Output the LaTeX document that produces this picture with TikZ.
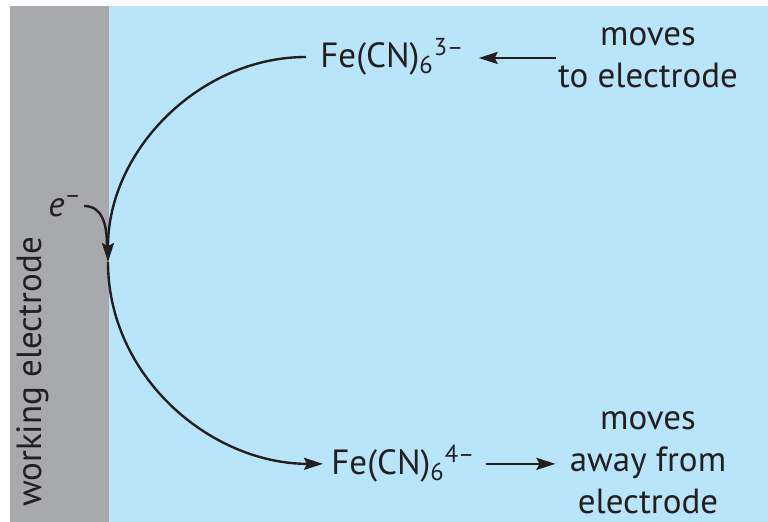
\documentclass[tikz,border=0pt]{standalone}
\usepackage{fontspec}
\setmainfont{PT Sans}
\usetikzlibrary{arrows.meta}
\definecolor{electrodegray}{RGB}{167,169,172}
\definecolor{solution}{RGB}{185,229,250}
\definecolor{ink}{RGB}{35,31,32}
\tikzset{flow/.style={line width=1.2pt, draw=ink,
  -{Stealth[length=9.5pt,width=6pt,inset=1.5pt]}}}

\begin{document}
\begin{tikzpicture}[x=.5pt,y=-.5pt,
      every node/.style={font=\fontsize{17.5}{21}\selectfont,text=ink,inner sep=1pt}]
    \useasboundingbox (0,0) rectangle (768,522);
    % electrode and solution
    \fill[electrodegray] (10,6) rectangle (109,522);
    \fill[solution] (109,6) rectangle (768,522);
    \node[rotate=90] (wlabel) at (33,372) {working electrode};

    % species
    \node[anchor=base west] (ox) at (318,68) {Fe(CN)\textsubscript{6}\textsuperscript{3--}};
    \node[anchor=base west] (red) at (329,475) {Fe(CN)\textsubscript{6}\textsuperscript{4--}};
    \node[align=center] (tomove) at (648,58) {moves\\to electrode};
    \node[align=center] (awaymove) at (648,463) {moves\\away from\\electrode};
    \node (elabel) at (65,206) {\textit{e}\textsuperscript{--}};

    % electron transfer at the surface
    \coordinate (surf) at (108,262);
    \coordinate (join) at (107,246);
    \draw[flow, shorten <=6pt] (ox.west) .. controls +(-118,0) and +(0,-112) .. (surf);
    \draw[flow, shorten >=3pt] (surf) .. controls +(0,115) and +(-118,0) .. (red.west);
    \draw[line width=1.2pt, draw=ink] (elabel.east) .. controls +(18,0) and +(0,-22) .. (join);

    % transport
    \draw[flow, shorten >=6pt] (tomove.west) -- (tomove.west -| ox.east);
    \draw[flow, shorten <=4pt, shorten >=6pt] (red.east) -- (red.east -| awaymove.west);
  \end{tikzpicture}
\end{document}
